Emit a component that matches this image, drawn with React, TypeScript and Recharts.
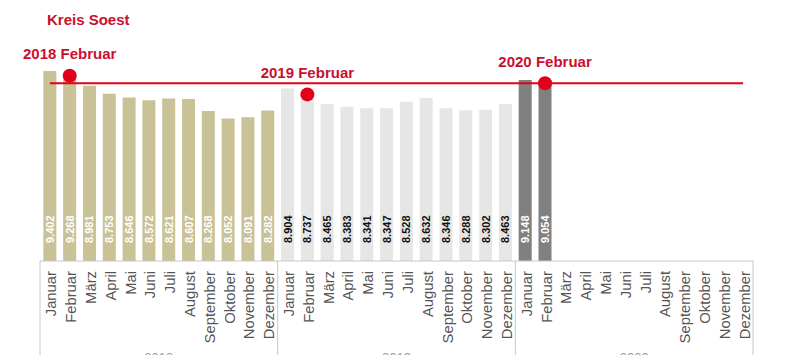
import React from 'react'
import {
  ComposedChart,
  Bar,
  Line,
  Cell,
  XAxis,
  YAxis,
  ReferenceLine,
  LabelList,
} from 'recharts'

const months = [
  'Januar',
  'Februar',
  'März',
  'April',
  'Mai',
  'Juni',
  'Juli',
  'August',
  'September',
  'Oktober',
  'November',
  'Dezember',
]
const years = ['2018', '2019', '2020']
const values2018 = [9402, 9268, 8981, 8753, 8646, 8572, 8621, 8607, 8268, 8052, 8091, 8282]
const values2019 = [8904, 8737, 8465, 8383, 8341, 8347, 8528, 8632, 8346, 8288, 8302, 8463]
const values2020 = [9148, 9054]
const markerMonth = 'Februar'
const referenceValue = 9054 // Februar 2020

const BAR_COLORS = ['#c9c297', '#e6e6e6', '#808080'] // 2018, 2019, 2020
const LABEL_COLORS = ['#ffffff', '#111111', '#ffffff']
const RED = '#e3001b'
const RED_TEXT = '#c8102e'

const W = 789
const H = 355
const M = { top: 50, right: 36, bottom: 0, left: 40 }
const STEP = (W - M.left - M.right) / 36

const seriesByYear = [values2018, values2019, values2020]

const data = years.flatMap((year, yi) =>
  months.map((month, mi) => {
    const v = seriesByYear[yi][mi]
    return {
      key: `${year}-${month}`,
      year,
      yearIndex: yi,
      month,
      monthIndex: mi,
      value: v ?? null,
      marker: month === markerMonth && v != null ? v : null,
    }
  })
)

const MonthTick = ({ x, y, payload }: any) => {
  const row = data[payload.index]
  const ty = y + 10
  return (
    <g>
      <text
        x={x + 1.5}
        y={ty}
        transform={`rotate(-90, ${x + 1.5}, ${ty})`}
        textAnchor="end"
        dominantBaseline="central"
        fontSize={14.8}
        fill="#555"
        fontFamily="Arial, 'Liberation Sans', sans-serif"
      >
        {row.month}
      </text>
      {row.monthIndex === 0 && (
        <line x1={x - STEP / 2} x2={x - STEP / 2} y1={y} y2={H} stroke="#c8c8c8" />
      )}
      {row.monthIndex === 11 && row.yearIndex === years.length - 1 && (
        <line x1={x + STEP / 2} x2={x + STEP / 2} y1={y} y2={H} stroke="#c8c8c8" />
      )}
      {row.monthIndex === 5 && (
        <text
          x={x + STEP / 2}
          y={362}
          textAnchor="middle"
          fontSize={13}
          fill="#999"
          fontFamily="Arial, 'Liberation Sans', sans-serif"
        >
          {row.year}
        </text>
      )}
    </g>
  )
}

const ValueLabel = ({ x, y, width, height, value, index }: any) => {
  if (value == null) return null
  const row = data[index]
  const cx = x + width / 2
  const cy = y + height - 18
  return (
    <text
      x={cx}
      y={cy}
      transform={`rotate(-90, ${cx}, ${cy})`}
      textAnchor="start"
      dominantBaseline="central"
      fontSize={11}
      fontWeight="bold"
      fill={LABEL_COLORS[row.yearIndex]}
      fontFamily="Arial, 'Liberation Sans', sans-serif"
    >
      {value.toLocaleString('de-DE')}
    </text>
  )
}

const MarkerDot = ({ cx, cy, payload }: any) => {
  if (payload.marker == null) return null
  return <circle key={payload.key} cx={cx} cy={cy} r={7} fill={RED} />
}

const MarkerLabel = ({ x, y, value, index }: any) => {
  if (value == null) return null
  const row = data[index]
  return (
    <text
      x={x}
      y={y - 22}
      textAnchor="middle"
      dominantBaseline="central"
      fontSize={15}
      fontWeight="bold"
      fill={RED_TEXT}
      fontFamily="Arial, 'Liberation Sans', sans-serif"
    >
      {`${row.year} ${row.month}`}
    </text>
  )
}

export default function App() {
  return (
    <div style={{ position: 'absolute', left: 0, top: 0, width: W, height: H, background: '#fff' }}>
      <div
        style={{
          position: 'absolute',
          left: 47,
          top: 11,
          color: RED_TEXT,
          fontFamily: "Arial, 'Liberation Sans', sans-serif",
          fontWeight: 'bold',
          fontSize: 15,
          lineHeight: '18px',
        }}
      >
        Kreis Soest
      </div>
      <ComposedChart width={W} height={H} data={data} margin={M} barCategoryGap="17%">
        <XAxis
          dataKey="key"
          interval={0}
          height={94}
          tick={<MonthTick />}
          tickLine={false}
          tickSize={0}
          tickMargin={0}
          axisLine={{ stroke: '#c8c8c8' }}
        />
        <YAxis hide domain={[4000, 10000]} allowDataOverflow />
        <ReferenceLine
          segment={[
            { x: data[0].key, y: referenceValue },
            { x: data[data.length - 1].key, y: referenceValue },
          ]}
          stroke={RED}
          strokeWidth={2}
        />
        <Bar dataKey="value" isAnimationActive={false}>
          {data.map((d) => (
            <Cell key={d.key} fill={BAR_COLORS[d.yearIndex]} />
          ))}
          <LabelList dataKey="value" content={<ValueLabel />} />
        </Bar>
        <Line
          dataKey="marker"
          stroke="none"
          dot={<MarkerDot />}
          activeDot={false}
          isAnimationActive={false}
        >
          <LabelList dataKey="marker" content={<MarkerLabel />} />
        </Line>
      </ComposedChart>
    </div>
  )
}
